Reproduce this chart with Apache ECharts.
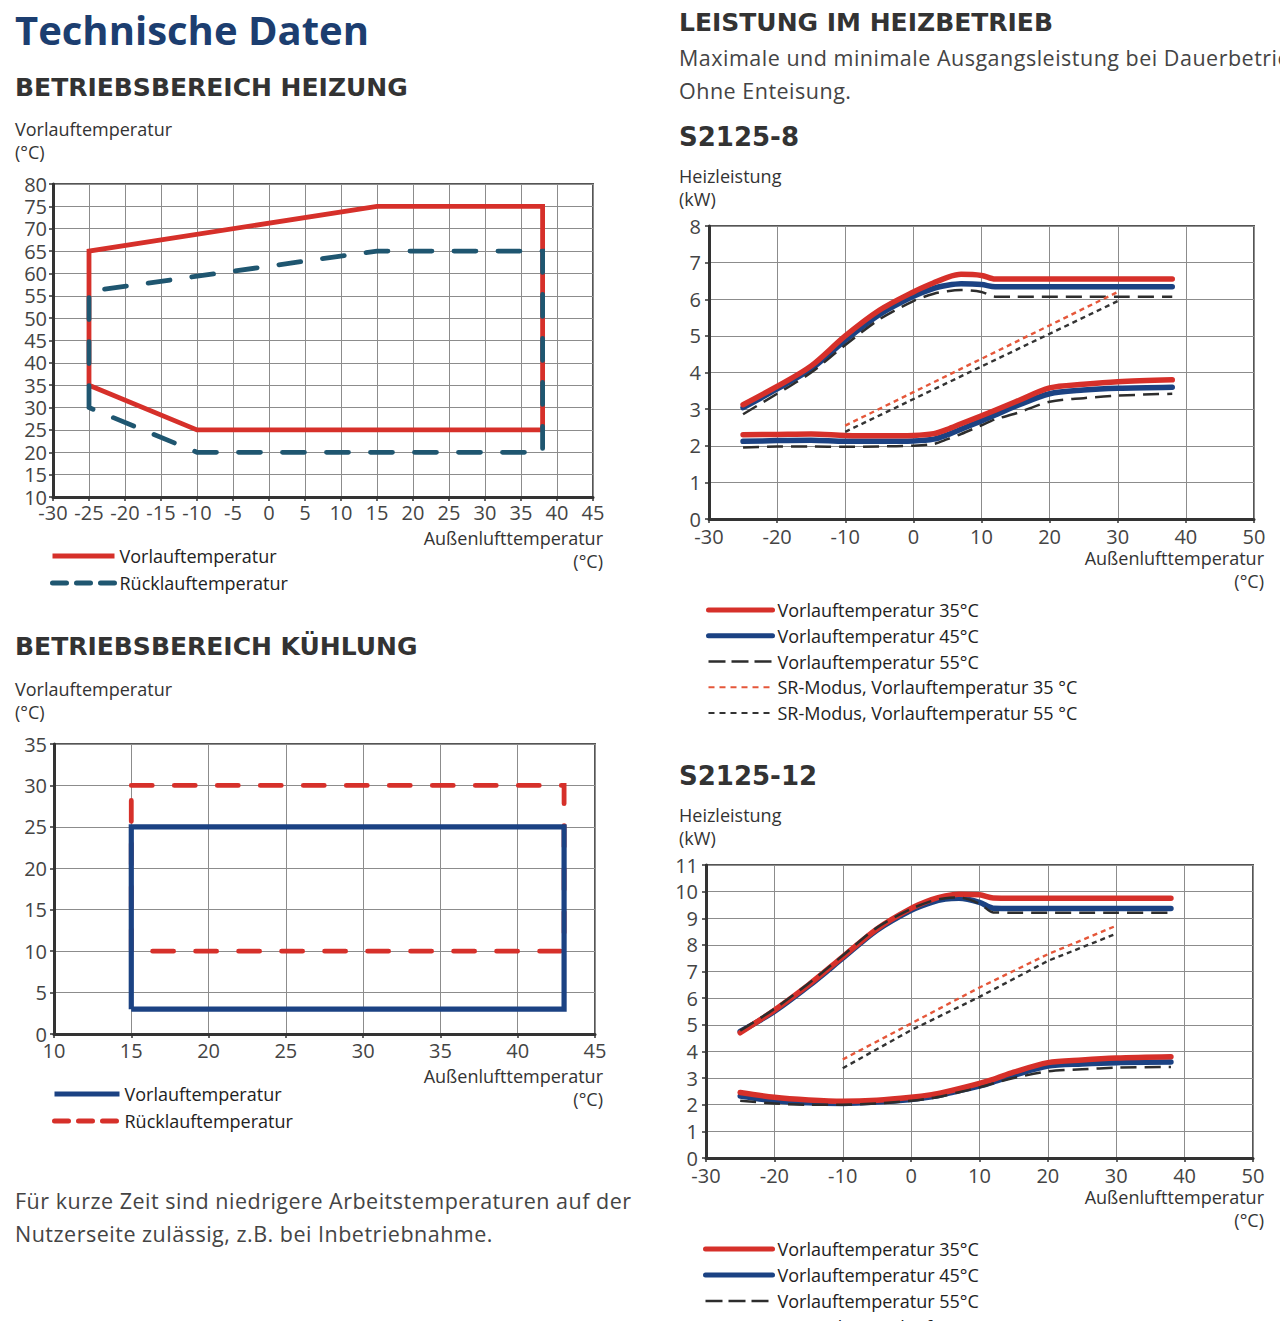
<!DOCTYPE html>
<html><head><meta charset="utf-8">
<script src="https://cdn.jsdelivr.net/npm/echarts@6/dist/echarts.min.js"></script>
<style>
html,body{margin:0;padding:0;background:#fff;overflow:hidden;}
body{width:1280px;height:1321px;position:relative;font-family:'Open Sans',sans-serif;color:#333;}
.t{position:absolute;white-space:nowrap;line-height:1.2;}
.h2{font-family:'DejaVu Sans',sans-serif;font-size:25px;font-weight:700;color:#333;}
.ax{font-size:18px;line-height:23px;color:#333;}
.axr{font-size:18px;line-height:23px;color:#333;text-align:right;}
.p{font-size:21.5px;line-height:33px;color:#444;letter-spacing:0.5px;}
.chart{position:absolute;}
</style></head><body>

<div class="t" style="left:15px;top:6px;font-size:40px;font-weight:700;color:#1c3e70;">Technische Daten</div>
<div class="t h2" style="left:15px;top:73px;">BETRIEBSBEREICH HEIZUNG</div>
<div class="t ax" style="left:15px;top:117.5px;">Vorlauftemperatur<br>(°C)</div>
<div class="t axr" style="right:677px;top:527.5px;line-height:20px;"><div>Außenlufttemperatur</div><div style="margin-top:3px;">(°C)</div></div>

<div class="t h2" style="left:15px;top:632px;">BETRIEBSBEREICH KÜHLUNG</div>
<div class="t ax" style="left:15px;top:677.5px;">Vorlauftemperatur<br>(°C)</div>
<div class="t axr" style="right:677px;top:1065.5px;line-height:20px;"><div>Außenlufttemperatur</div><div style="margin-top:3px;">(°C)</div></div>
<div class="t p" style="left:15px;top:1183.5px;">Für kurze Zeit sind niedrigere Arbeitstemperaturen auf der<br>Nutzerseite zulässig, z.B. bei Inbetriebnahme.</div>

<div class="t h2" style="left:679px;top:8px;">LEISTUNG IM HEIZBETRIEB</div>
<div class="t p" style="left:679px;top:40.5px;">Maximale und minimale Ausgangsleistung bei Dauerbetrieb.<br>Ohne Enteisung.</div>
<div class="t h2" style="left:679px;top:122px;font-size:26px;">S2125-8</div>
<div class="t ax" style="left:679px;top:164.5px;">Heizleistung<br>(kW)</div>
<div class="t axr" style="right:16px;top:547.5px;line-height:20px;"><div>Außenlufttemperatur</div><div style="margin-top:3px;">(°C)</div></div>

<div class="t h2" style="left:679px;top:761px;font-size:26px;">S2125-12</div>
<div class="t ax" style="left:679px;top:803.5px;">Heizleistung<br>(kW)</div>
<div class="t axr" style="right:16px;top:1186.5px;line-height:20px;"><div>Außenlufttemperatur</div><div style="margin-top:3px;">(°C)</div></div>

<div id="c1" class="chart" style="left:0px;top:160px;width:640px;height:480px;"></div>
<div id="c2" class="chart" style="left:0px;top:720px;width:640px;height:460px;"></div>
<div id="c3" class="chart" style="left:660px;top:195px;width:620px;height:560px;"></div>
<div id="c4" class="chart" style="left:660px;top:835px;width:620px;height:600px;"></div>

<script>
// ===== DATA =====
// Betriebsbereich Heizung: [Außenlufttemperatur °C, Vorlauftemperatur °C]
const heizVorlauf   = [[-25,35],[-25,65],[15,75],[38,75],[38,25],[-10,25],[-25,35]];
const heizRuecklauf = [[-25,30],[-25,56],[15,65],[38,65],[38,20],[-10,20],[-25,30]];
const heizXAxis = {min:-30, max:45, step:5};
const heizYAxis = {min:10, max:80, step:5};

// Betriebsbereich Kühlung
const kuehlVorlauf   = [[15,3],[15,25],[43,25],[43,3],[15,3]];
const kuehlRuecklauf = [[15,30],[43,30],[43,10],[15,10],[15,30]];
const kuehlXAxis = {min:10, max:45, step:5};
const kuehlYAxis = {min:0, max:35, step:5};

// Heizleistung (kW) over Außenlufttemperatur (°C)
const capX = [-25,-20,-15,-10,-5,0,3,5,7,10,12,15,20,25,30,38];
const s8Max35 = [3.12,3.62,4.18,5.0,5.7,6.2,6.45,6.6,6.68,6.65,6.55,6.55,6.55,6.55,6.55,6.55];
const s8Max45 = [3.04,3.55,4.1,4.88,5.58,6.08,6.3,6.38,6.42,6.4,6.34,6.34,6.34,6.34,6.34,6.34];
const s8Max55 = [2.86,3.42,4.0,4.75,5.45,5.95,6.15,6.22,6.25,6.2,6.07,6.07,6.07,6.07,6.07,6.07];
const s8Min35 = [2.3,2.31,2.32,2.28,2.27,2.28,2.33,2.45,2.6,2.82,2.97,3.2,3.58,3.68,3.75,3.8];
const s8Min45 = [2.12,2.14,2.15,2.12,2.12,2.13,2.18,2.3,2.45,2.68,2.84,3.08,3.42,3.52,3.57,3.6];
const s8Min55 = [1.95,1.98,1.98,1.97,1.98,2.0,2.05,2.18,2.32,2.56,2.72,2.88,3.2,3.3,3.37,3.42];
const s8SrX  = [-10,30];
const s8Sr35 = [2.55,6.2];
const s8Sr55 = [2.38,5.95];
const s8YAxis = {min:0, max:8, step:1};

const s12Max35 = [4.7,5.55,6.5,7.55,8.6,9.37,9.7,9.84,9.9,9.88,9.76,9.75,9.75,9.75,9.75,9.75];
const s12Max45 = [4.75,5.5,6.45,7.5,8.55,9.3,9.6,9.72,9.75,9.6,9.38,9.37,9.37,9.37,9.37,9.37];
const s12Max55 = [4.78,5.6,6.55,7.6,8.65,9.35,9.65,9.75,9.78,9.55,9.22,9.21,9.21,9.21,9.21,9.21];
const s12Min35 = [2.46,2.28,2.18,2.13,2.17,2.28,2.38,2.48,2.6,2.8,2.95,3.22,3.58,3.68,3.75,3.8];
const s12Min45 = [2.33,2.15,2.07,2.05,2.1,2.2,2.3,2.4,2.52,2.7,2.85,3.1,3.45,3.53,3.58,3.6];
const s12Min55 = [2.15,2.05,2.0,2.0,2.05,2.15,2.25,2.35,2.47,2.65,2.8,3.0,3.25,3.33,3.39,3.42];
const s12SrX  = [-10,0,10,20,30];
const s12Sr35 = [3.7,5.05,6.4,7.65,8.72];
const s12Sr55 = [3.37,4.8,6.05,7.4,8.42];
const s12YAxis = {min:0, max:11, step:1};
const capXAxis = {min:-30, max:50, step:10};

const labelsHeiz  = ['Vorlauftemperatur','Rücklauftemperatur'];
const labelsPower = ['Vorlauftemperatur 35°C','Vorlauftemperatur 45°C','Vorlauftemperatur 55°C','SR-Modus, Vorlauftemperatur 35 °C','SR-Modus, Vorlauftemperatur 55 °C'];

// ===== STYLES =====
const FONT = "'Open Sans', sans-serif";
const RED = '#d6302a', BLUE = '#1b4283', TEAL = '#1f5670', DARK = '#2d2d2d', SRRED = '#e5573a', SRDARK = '#333333';

function zip(xs, ys){ return xs.map((x,i)=>[x, ys[i]]); }

function axis(r, labelMargin, fs){
  return {
    type:'value', min:r.min, max:r.max, interval:r.step,
    axisLine:{show:true, onZero:false, lineStyle:{color:'#333', width:3}},
    axisTick:{show:true, length:4, lineStyle:{color:'#333', width:1.5}},
    axisLabel:{fontSize:fs, lineHeight:fs, color:'#444', margin:labelMargin, fontFamily:FONT},
    splitLine:{show:true, lineStyle:{color:'#8c8c8c', width:1}}
  };
}

function line(name, data, color, width, type, z, smooth, cap){
  return {
    name, type:'line', data, symbol:'none', showSymbol:false, silent:true, z,
    smooth: smooth ? 0.3 : false,
    lineStyle:{color, width, type, cap: cap || (smooth ? 'round' : 'butt'), join: smooth ? 'round' : 'miter'},
    itemStyle:{color}
  };
}

function legend(left, top, itemWidth, gap, items){
  return {
    orient:'vertical', left, top, padding:0, itemWidth, itemHeight:14, itemGap:gap, selectedMode:false,
    itemStyle:{opacity:0},
    textStyle:{fontSize:18, color:'#222', lineHeight:20, fontFamily:FONT},
    data: items
  };
}

function make(id, opt){
  const c = echarts.init(document.getElementById(id), null, {renderer:'svg'});
  opt.animation = false;
  c.setOption(opt);
}

// Chart 1: Betriebsbereich Heizung
make('c1', {
  grid:{left:53, top:24, width:540, height:313, show:true, borderColor:'#555', borderWidth:2},
  xAxis: axis(heizXAxis, 5, 20),
  yAxis: axis(heizYAxis, 6, 20),
  legend: legend(50, 386, 62, 7, [
    {name:labelsHeiz[0], lineStyle:{width:5, color:RED, type:'solid'}},
    {name:labelsHeiz[1], lineStyle:{width:5, color:TEAL, type:[14,10], cap:'round'}}
  ]),
  series:[
    line(labelsHeiz[0], heizVorlauf, RED, 4.8, 'solid', 2, false),
    line(labelsHeiz[1], heizRuecklauf, TEAL, 4.8, [22,22], 3, false, 'round')
  ]
});

// Chart 2: Betriebsbereich Kühlung
make('c2', {
  grid:{left:54, top:24, width:541, height:290, show:true, borderColor:'#555', borderWidth:2},
  xAxis: axis(kuehlXAxis, 6, 20),
  yAxis: axis(kuehlYAxis, 7, 20),
  legend: legend(52, 364, 65, 7, [
    {name:labelsHeiz[0], lineStyle:{width:5, color:BLUE, type:'solid'}},
    {name:labelsHeiz[1], lineStyle:{width:5, color:RED, type:[14,10], cap:'round'}}
  ]),
  series:[
    line(labelsHeiz[1], kuehlRuecklauf, RED, 4.8, [21,22], 2, false, 'round'),
    line(labelsHeiz[0], kuehlVorlauf, BLUE, 5.2, 'solid', 3, false)
  ]
});

function powerSeries(mx35,mx45,mx55,mn35,mn45,mn55,srx,sr35,sr55){
  return [
    line(labelsPower[1], zip(capX,mx45), BLUE, 5.5, 'solid', 2, true),
    line(labelsPower[1], zip(capX,mn45), BLUE, 5.5, 'solid', 2, true),
    line(labelsPower[0], zip(capX,mx35), RED, 5.5, 'solid', 3, true),
    line(labelsPower[0], zip(capX,mn35), RED, 5.5, 'solid', 3, true),
    line(labelsPower[2], zip(capX,mx55), DARK, 2.5, [16,8], 4, true, 'butt'),
    line(labelsPower[2], zip(capX,mn55), DARK, 2.5, [16,8], 4, true, 'butt'),
    line(labelsPower[3], zip(srx,sr35), SRRED, 2.4, [5,4], 5, false),
    line(labelsPower[4], zip(srx,sr55), SRDARK, 2.4, [5,4], 5, false)
  ];
}
function powerLegend(left, top, w, gap){
  return legend(left, top, w, gap, [
    {name:labelsPower[0], lineStyle:{width:5, color:RED, type:'solid'}},
    {name:labelsPower[1], lineStyle:{width:5, color:BLUE, type:'solid'}},
    {name:labelsPower[2], lineStyle:{width:2.5, color:DARK, type:[17,6]}},
    {name:labelsPower[3], lineStyle:{width:2, color:SRRED, type:[6,5]}},
    {name:labelsPower[4], lineStyle:{width:2, color:SRDARK, type:[6,5]}}
  ]);
}

// Chart 3: S2125-8
make('c3', {
  grid:{left:49, top:31, width:545, height:293, show:true, borderColor:'#555', borderWidth:2},
  xAxis: axis(capXAxis, 7, 20),
  yAxis: axis(s8YAxis, 8, 20),
  legend: powerLegend(46, 405, 64, 5.75),
  series: powerSeries(s8Max35,s8Max45,s8Max55,s8Min35,s8Min45,s8Min55,s8SrX,s8Sr35,s8Sr55)
});

// Chart 4: S2125-12
make('c4', {
  grid:{left:46, top:30, width:547, height:293, show:true, borderColor:'#555', borderWidth:2},
  xAxis: axis(capXAxis, 7, 20),
  yAxis: axis(s12YAxis, 8, 20),
  legend: powerLegend(43, 404, 67, 6),
  series: powerSeries(s12Max35,s12Max45,s12Max55,s12Min35,s12Min45,s12Min55,s12SrX,s12Sr35,s12Sr55)
});
</script>
</body></html>
